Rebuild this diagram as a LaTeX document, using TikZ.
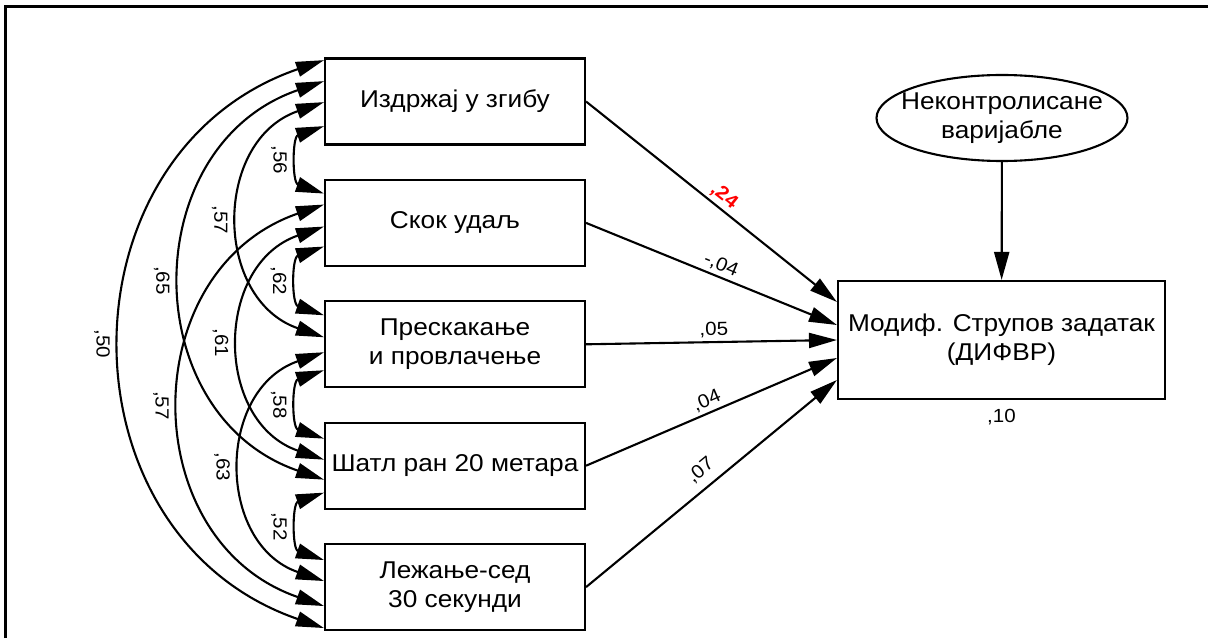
\documentclass[tikz,border=0pt]{standalone}
\usepackage{fontspec}
\setmainfont{Liberation Sans}[FakeStretch=1.08]
\usetikzlibrary{arrows.meta,positioning,shapes.geometric}

\begin{document}
\begin{tikzpicture}[x=1pt,y=1pt,line width=2.1pt,
  >={Triangle[length=28pt,width=15pt]},
  obs/.style={draw,minimum width=260pt,minimum height=86pt,align=center,inner sep=1pt,
    font=\fontsize{24.3}{29}\selectfont},
  coef/.style={font=\fontsize{19}{22}\selectfont,inner sep=3pt},
  cov/.style={<->,out=199,in=161,looseness=1.28}]
 \useasboundingbox (0,0) rectangle (1208,638);
 \draw[line width=2.2pt] (5.5,0)--(5.5,631.5)--(1208,631.5);
 % observed predictors
 \node[obs] (b1) at (455,536.5) {Издржај у згибу};
 \node[obs,below=33.3pt of b1] (b2) {Скок удаљ};
 \node[obs,below=33.3pt of b2] (b3) {Прескакање\\и провлачење};
 \node[obs,below=33.3pt of b3] (b4) {Шатл ран 20 метара};
 \node[obs,below=33.3pt of b4] (b5) {Лежање-сед\\30 секунди};
 % criterion and residual
 \node[obs,minimum width=327pt,minimum height=118pt] (dv) at (1001.5,298) {Модиф. Струпов задатак\\(ДИФВР)};
 \node[draw,ellipse,minimum width=251pt,minimum height=86pt] (err) at (1002,520) {};
 \node[align=center,font=\fontsize{24.3}{29}\selectfont] (errtxt) at (err.center) {Неконтролисане\\варијабле};
 \node[coef,below=5pt of dv] (r2) {,10};
 \draw[->] (err) -- (dv);
 % arrow ends on the left sides
 \foreach \n/\a/\b/\c/\d in {b1/2.7/23.7/44.7/68.7,b2/14.7/25.7/47.7/67.7,b3/15/37/52/70,b4/17/38/58/71,b5/17/38/63/85}{
  \coordinate (\n-1) at ([yshift=-\a pt]\n.north west);
  \coordinate (\n-2) at ([yshift=-\b pt]\n.north west);
  \coordinate (\n-3) at ([yshift=-\c pt]\n.north west);
  \coordinate (\n-4) at ([yshift=-\d pt]\n.north west);
 }
 % correlations
 \foreach \p/\q/\r in {b1-4/b2-1/{,56},b2-4/b3-1/{,62},b3-4/b4-1/{,58},b4-4/b5-1/{,52},
   b1-3/b3-2/{,57},b2-3/b4-2/{,61},b3-3/b5-2/{,63},b1-2/b4-3/{,65},b2-2/b5-3/{,57},b1-1/b5-4/{,50}}
  \draw[cov] (\p) to node[coef,midway,xshift=-21pt,rotate=-90] {\r} (\q);
 % paths
 \coordinate (dv1) at ([yshift=38pt]dv.west);
 \coordinate (dv2) at ([yshift=15pt]dv.west);
 \coordinate (dv4) at ([yshift=-18pt]dv.west);
 \coordinate (dv5) at ([yshift=-40pt]dv.west);
 \draw[->] (b1.east) -- node[coef,pos=.52,above,sloped,text=red,font=\bfseries\fontsize{19}{22}\selectfont] {,24} (dv1);
 \draw[->] (b2.east) -- node[coef,pos=.52,above,sloped] {-,04} (dv2);
 \draw[->] (b3.east) -- node[coef,pos=.51,above,sloped] {,05} (dv.west);
 \draw[->] (b4.east) -- node[coef,pos=.5,above,sloped] {,04} (dv4);
 \draw[->] (b5.east) -- node[coef,pos=.5,above,sloped,yshift=5pt] {,07} (dv5);
\end{tikzpicture}
\end{document}
